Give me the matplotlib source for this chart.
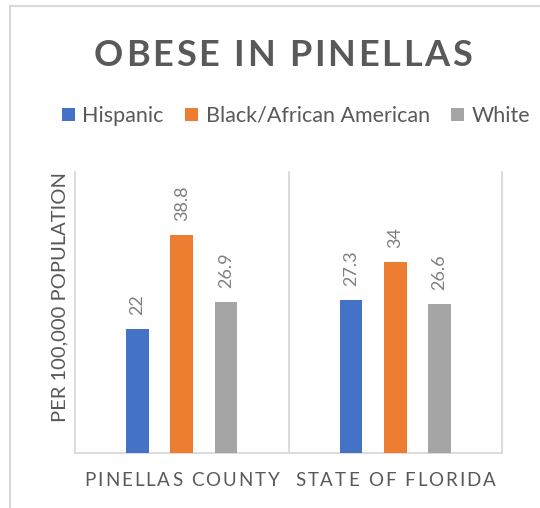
import numpy as np
import matplotlib
matplotlib.use('Agg')
import matplotlib.pyplot as plt
from matplotlib.font_manager import FontProperties, findfont, get_font
from matplotlib.lines import Line2D

# data
categories = ['PINELLAS COUNTY', 'STATE OF FLORIDA']
series_names = ['Hispanic', 'Black/African American', 'White']
hispanic = [22, 27.3]
black_african_american = [38.8, 34]
white = [26.9, 26.6]
series_values = [hispanic, black_african_american, white]
colors = ['#4472C4', '#ED7D31', '#A5A5A5']

plt.rcParams['font.family'] = ['Lato', 'DejaVu Sans']
TEXT = '#595959'
LINE = '#d9d9d9'

W, H = 540, 508
fig = plt.figure(figsize=(W / 100, H / 100), dpi=100)
ax = fig.add_axes([75 / W, 1 - 453 / H, 427 / W, 281 / H])

x = np.arange(len(categories))
offsets = [-0.207, 0, 0.207]
bw = 0.106
bars = []
for vals, name, off, c in zip(series_values, series_names, offsets, colors):
    b = ax.bar(x + off, vals, bw, color=c, label=name, zorder=3)
    bars.append(b)
    for rect, v in zip(b, vals):
        ax.annotate(f'{v:g}', (rect.get_x() + rect.get_width() / 2, rect.get_height()),
                    xytext=(0, 14), textcoords='offset pixels', rotation=90,
                    ha='center', va='bottom', fontsize=13, color='#7f7f7f')

ax.set_xlim(-0.5, len(categories) - 0.5)
ax.set_ylim(0, 50)
for xv in np.arange(len(categories) + 1) - 0.5:
    ax.axvline(xv, color=LINE, lw=1.3, clip_on=False, zorder=1)
for s in ['top', 'right', 'left']:
    ax.spines[s].set_visible(False)
ax.spines['bottom'].set_color(LINE)
ax.spines['bottom'].set_linewidth(1.3)
ax.set_xticks(x)
ax.set_xticklabels([])
ax.set_yticks([])
ax.tick_params(axis='x', length=0)


def tracked_text(cx, cy, s, fp, spacing, color):
    # draw s centred at pixel (cx, cy) with extra letter spacing
    font = get_font(findfont(fp))
    font.set_size(fp.get_size_in_points(), fig.dpi)
    adv = []
    for ch in s:
        g = font.load_char(ord(ch))
        adv.append(g.linearHoriAdvance / 65536)
    total = sum(adv) + spacing * (len(s) - 1)
    pos = cx - total / 2
    for ch, a in zip(s, adv):
        if ch != ' ':
            fig.text(pos / W, 1 - cy / H, ch, fontproperties=fp, color=color,
                     ha='left', va='center')
        pos += a + spacing


# category labels with letter spacing
fp_cat = FontProperties(family='Lato', size=13.5)
for xi, lab in zip(x, categories):
    px = ax.transData.transform((xi, 0))[0]
    tracked_text(px, 481, lab, fp_cat, 2.0, TEXT)

# title
fp_title = FontProperties(family='Lato', size=26, weight='bold')
tracked_text(283, 55, 'OBESE IN PINELLAS', fp_title, 2.7, TEXT)

fig.text(60 / W, 1 - 297 / H, 'PER 100,000 POPULATION', rotation=90,
         ha='center', va='center', fontsize=14.5, color=TEXT)

fig.legend(handles=bars, loc='center', bbox_to_anchor=(296 / W, 1 - 116 / H),
           ncol=3, frameon=False, fontsize=15.5, handlelength=0.6,
           handleheight=0.6, handletextpad=0.35, columnspacing=1.0,
           labelcolor=TEXT)

# outer chart border (cropped)
fig.add_artist(Line2D([10 / W, 10 / W], [0, 1 - 6 / H], transform=fig.transFigure,
                      color=LINE, lw=1.5))
fig.add_artist(Line2D([10 / W, 1], [1 - 6 / H, 1 - 6 / H], transform=fig.transFigure,
                      color=LINE, lw=1.5))

fig.savefig('out.png', dpi=100)
